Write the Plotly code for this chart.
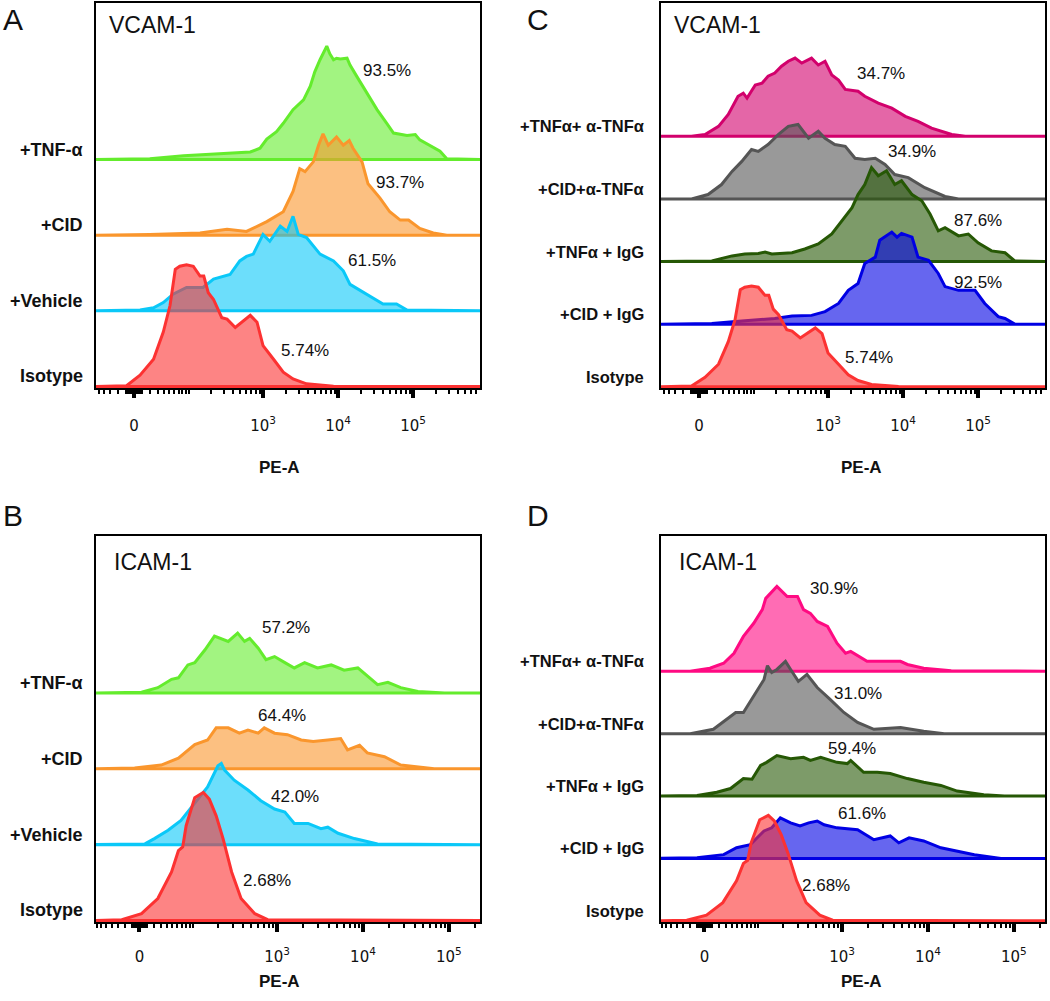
import numpy as np
import plotly.graph_objects as go

# ---------------- data (x: display channel of PE-A, y: normalized count in lane units) ----
# Panel A - VCAM-1
A_TNF_x = [0.75,1.49,1.94,2.6,2.83,2.96,3.05,3.18,3.27,3.4,3.54,3.63,3.69,3.76,3.85,3.89,3.94,3.98,4.03,4.12,4.16,4.25,4.38,4.52,4.65,4.74,4.92,5.03,5.09,5.23,5.36,5.45,5.92]
A_TNF_y = [0,0.01,0.05,0.09,0.1,0.15,0.27,0.37,0.48,0.66,0.79,0.97,1.16,1.32,1.5,1.4,1.32,1.34,1.33,1.34,1.25,1.1,0.88,0.66,0.48,0.35,0.32,0.33,0.26,0.18,0.11,0.01,0]
A_CID_x = [0.75,1.49,2.16,2.52,2.78,2.87,3.05,3.27,3.4,3.49,3.56,3.67,3.74,3.8,3.87,3.98,4.07,4.15,4.2,4.32,4.4,4.56,4.69,4.83,4.94,5.09,5.27,5.45,5.92]
A_CID_y = [0,0.01,0.03,0.08,0.05,0.09,0.18,0.31,0.58,0.88,0.84,0.97,1.19,1.34,1.19,1.3,1.19,1.25,1.15,0.97,0.68,0.49,0.31,0.2,0.2,0.09,0.03,0,0]
A_VEH_x = [0.75,1.36,1.54,1.67,1.8,1.98,2.2,2.34,2.56,2.69,2.78,2.87,3.0,3.09,3.23,3.32,3.4,3.47,3.58,3.76,3.94,4.07,4.16,4.38,4.6,4.78,4.92,5.92]
A_VEH_y = [0,0.01,0.04,0.11,0.22,0.31,0.31,0.42,0.48,0.66,0.72,0.75,1.01,0.92,1.12,1.05,1.25,1.01,0.97,0.75,0.66,0.53,0.35,0.22,0.09,0.09,0.01,0]
ISO_VC_x = [0.75,1.18,1.36,1.54,1.67,1.76,1.83,1.89,1.98,2.07,2.16,2.21,2.27,2.34,2.45,2.52,2.63,2.72,2.83,2.92,3.0,3.14,3.27,3.4,3.58,3.94,5.92]
ISO_VC_y = [0,0.01,0.15,0.36,0.72,1.07,1.55,1.59,1.61,1.59,1.46,1.46,1.24,1.15,0.91,0.89,0.78,0.85,0.94,0.85,0.54,0.36,0.19,0.1,0.035,0.004,0]

# Panel C - VCAM-1
C_TNFA_x = [0.75,1.18,1.36,1.54,1.67,1.8,1.87,1.92,2.03,2.12,2.2,2.29,2.38,2.47,2.56,2.65,2.78,2.87,2.96,3.05,3.14,3.23,3.4,3.49,3.67,3.85,4.03,4.2,4.38,4.65,4.83,5.92]
C_TNFA_y = [0,0,0.03,0.16,0.35,0.64,0.69,0.61,0.82,0.85,0.96,1.01,1.12,1.2,1.25,1.17,1.25,1.14,1.2,0.98,0.9,0.75,0.72,0.64,0.53,0.45,0.32,0.24,0.13,0.03,0,0]
C_CIDA_x = [0.75,1.18,1.4,1.58,1.72,1.85,1.98,2.07,2.2,2.34,2.47,2.6,2.74,2.87,2.96,3.09,3.23,3.36,3.49,3.63,3.76,3.89,4.07,4.29,4.56,4.74,5.92]
C_CIDA_y = [0,0,0.07,0.23,0.44,0.6,0.79,0.76,0.87,1.03,1.16,1.19,0.97,1.08,0.97,0.87,0.84,0.65,0.63,0.65,0.55,0.39,0.34,0.18,0.04,0,0]
C_TNFG_x = [0.75,1.45,1.72,1.89,2.07,2.16,2.25,2.52,2.69,2.87,3.05,3.18,3.32,3.4,3.49,3.58,3.67,3.78,3.89,3.98,4.12,4.25,4.36,4.47,4.56,4.74,4.87,5.0,5.18,5.36,5.49,5.92]
C_TNFG_y = [0,0.01,0.09,0.12,0.13,0.15,0.12,0.14,0.2,0.28,0.44,0.65,0.86,1.07,1.23,1.5,1.37,1.45,1.23,1.29,1.07,0.97,0.76,0.49,0.54,0.41,0.44,0.3,0.17,0.14,0.01,0]
C_CIDG_x = [0.75,1.45,1.85,2.29,2.52,2.78,2.96,3.14,3.27,3.4,3.49,3.63,3.69,3.85,3.92,3.98,4.12,4.2,4.34,4.47,4.56,4.74,4.96,5.09,5.27,5.36,5.49,5.92]
C_CIDG_y = [0,0.01,0.05,0.09,0.13,0.14,0.2,0.33,0.54,0.65,0.97,1.07,1.34,1.47,1.39,1.45,1.39,1.07,1.02,0.81,0.6,0.54,0.54,0.33,0.12,0.09,0,0]

# Panel B - ICAM-1
B_TNF_x = [0.85,1.42,1.61,1.77,1.85,1.96,2.04,2.16,2.27,2.35,2.43,2.54,2.62,2.68,2.78,2.87,2.97,3.09,3.2,3.32,3.47,3.63,3.78,3.94,4.05,4.17,4.29,4.44,4.64,4.95,5.4]
B_TNF_y = [0,0.01,0.07,0.18,0.2,0.37,0.4,0.57,0.75,0.72,0.68,0.79,0.68,0.72,0.59,0.44,0.48,0.4,0.33,0.4,0.33,0.37,0.3,0.33,0.22,0.11,0.14,0.07,0.02,0,0]
B_CID_x = [0.85,1.34,1.65,1.85,2.04,2.19,2.29,2.43,2.56,2.66,2.78,2.85,2.97,3.12,3.28,3.42,3.59,3.74,3.82,3.96,4.05,4.25,4.44,4.83,5.4]
B_CID_y = [0,0.01,0.05,0.14,0.32,0.38,0.54,0.54,0.47,0.51,0.47,0.54,0.47,0.45,0.38,0.36,0.38,0.4,0.25,0.31,0.21,0.16,0.05,0,0]
B_VEH_x = [0.85,1.46,1.57,1.73,1.88,2.04,2.19,2.31,2.35,2.39,2.5,2.66,2.81,2.97,3.09,3.2,3.36,3.51,3.59,3.71,3.9,4.17,5.4]
B_VEH_y = [0,0.01,0.08,0.19,0.32,0.54,0.76,1.04,1.07,0.98,0.85,0.72,0.58,0.47,0.43,0.28,0.28,0.21,0.23,0.15,0.08,0.01,0]
ISO_IC_x = [0.85,1.19,1.42,1.61,1.77,1.85,1.9,1.94,2.04,2.14,2.21,2.29,2.37,2.47,2.58,2.74,2.89,5.4]
ISO_IC_y = [0,0.01,0.09,0.29,0.64,0.92,0.97,1.25,1.62,1.69,1.6,1.38,1.08,0.64,0.29,0.09,0.01,0]

# Panel D - ICAM-1
D_TNFA_x = [0.85,1.23,1.46,1.62,1.74,1.85,1.97,2.07,2.11,2.24,2.36,2.48,2.55,2.63,2.71,2.83,2.94,3.04,3.1,3.29,3.68,3.76,3.95,4.27,5.4]
D_TNFA_y = [0,0,0.05,0.13,0.29,0.56,0.77,0.99,1.17,1.36,1.2,1.2,0.99,0.93,0.8,0.72,0.45,0.29,0.32,0.16,0.16,0.11,0.05,0.01,0]
D_CIDA_x = [0.85,1.23,1.5,1.66,1.76,1.85,1.97,2.09,2.13,2.18,2.24,2.34,2.4,2.49,2.59,2.71,2.86,3.02,3.18,3.37,3.68,3.95,4.19,5.4]
D_CIDA_y = [0,0,0.07,0.23,0.34,0.34,0.6,0.87,1.09,0.98,1.03,1.16,1.03,0.84,0.95,0.74,0.55,0.34,0.18,0.07,0.1,0.04,0,0]
D_TNFG_x = [0.85,1.31,1.54,1.7,1.85,1.95,2.05,2.12,2.24,2.4,2.55,2.63,2.75,2.94,3.06,3.1,3.25,3.41,3.56,3.76,3.95,4.15,4.34,4.65,4.89,5.4]
D_TNFG_y = [0,0.01,0.06,0.12,0.28,0.27,0.49,0.54,0.65,0.6,0.62,0.57,0.62,0.54,0.52,0.57,0.38,0.38,0.36,0.28,0.22,0.17,0.08,0.02,0,0]
D_CIDG_x = [0.85,1.31,1.62,1.77,1.93,2.09,2.18,2.28,2.4,2.51,2.61,2.71,2.79,2.94,3.18,3.37,3.56,3.66,3.78,3.95,4.15,4.34,4.54,4.85,5.4]
D_CIDG_y = [0,0.01,0.06,0.17,0.22,0.44,0.49,0.65,0.57,0.52,0.57,0.6,0.54,0.49,0.46,0.3,0.36,0.25,0.33,0.28,0.17,0.12,0.06,0,0]

# sample labels (top lane first)
LABELS_AB = ["+TNF-\u03b1", "+CID", "+Vehicle", "Isotype"]
LABELS_CD = ["+TNF\u03b1+ \u03b1-TNF\u03b1", "+CID+\u03b1-TNF\u03b1", "+TNF\u03b1 + IgG", "+CID + IgG", "Isotype"]

# gate percentages (text, channel position, lane height)
PCT_A = ["93.5%", "93.7%", "61.5%", "5.74%"]; PCT_A_X = [4.65, 4.83, 4.45, 3.56]; PCT_A_Y = [4.18, 2.70, 1.66, 0.47]
PCT_C = ["34.7%", "34.9%", "87.6%", "92.5%", "5.74%"]; PCT_C_X = [3.71, 4.12, 5.0, 5.0, 3.55]; PCT_C_Y = [5.0, 3.76, 2.65, 1.67, 0.47]
PCT_B = ["57.2%", "64.4%", "42.0%", "2.68%"]; PCT_B_X = [3.1, 3.06, 3.21, 2.88]; PCT_B_Y = [3.87, 2.70, 1.63, 0.53]
PCT_D = ["30.9%", "31.0%", "59.4%", "61.6%", "2.68%"]; PCT_D_X = [2.91, 3.18, 3.11, 3.23, 2.81]; PCT_D_Y = [5.33, 3.65, 2.76, 1.72, 0.57]

# ---------------- styles ----------------
COL = {
    "green": (100, 236, 45), "orange": (250, 150, 45), "cyan": (10, 200, 248), "red": (252, 50, 50),
    "pinkC": (210, 0, 108), "gray": (85, 85, 85), "dgreen": (38, 88, 5), "blue": (0, 0, 228),
    "pinkD": (255, 10, 130),
}
FONT = "Arial, Liberation Sans, sans-serif"

fig = go.Figure()

W, H = 1050, 1001
panels = {
    "A": ("", (96, 480), (3, 388), [0.773, 5.893], [-0.02, 5.07], 1.28,
          [(A_TNF_x, A_TNF_y, "green"), (A_CID_x, A_CID_y, "orange"), (A_VEH_x, A_VEH_y, "cyan"), (ISO_VC_x, ISO_VC_y, "red")],
          LABELS_AB, (PCT_A, PCT_A_X, PCT_A_Y), "VCAM-1", 0.029, 0.943, 0.479, 468, 11, 18, 15),
    "C": ("2", (661, 1045), (3, 388), [0.773, 5.893], [-0.02, 6.13], 1.28,
          [(C_TNFA_x, C_TNFA_y, "pinkC"), (C_CIDA_x, C_CIDA_y, "gray"), (C_TNFG_x, C_TNFG_y, "dgreen"), (C_CIDG_x, C_CIDG_y, "blue"), (ISO_VC_x, ISO_VC_y, "red")],
          LABELS_CD, (PCT_C, PCT_C_X, PCT_C_Y), "VCAM-1", 0.029, 0.943, 0.523, 468, 15, 16.5, 15),
    "B": ("3", (96, 480), (536, 922), [0.89, 5.363], [-0.02, 5.07], 1.396,
          [(B_TNF_x, B_TNF_y, "green"), (B_CID_x, B_CID_y, "orange"), (B_VEH_x, B_VEH_y, "cyan"), (ISO_IC_x, ISO_IC_y, "red")],
          LABELS_AB, (PCT_B, PCT_B_X, PCT_B_Y), "ICAM-1", 0.042, 0.933, 0.479, 993, 11, 18, 12),
    "D": ("4", (661, 1045), (536, 922), [0.89, 5.363], [-0.02, 6.17], 1.396,
          [(D_TNFA_x, D_TNFA_y, "pinkD"), (D_CIDA_x, D_CIDA_y, "gray"), (D_TNFG_x, D_TNFG_y, "dgreen"), (D_CIDG_x, D_CIDG_y, "blue"), (ISO_IC_x, ISO_IC_y, "red")],
          LABELS_CD, (PCT_D, PCT_D_X, PCT_D_Y), "ICAM-1", 0.042, 0.933, 0.523, 993, 15, 16.5, 12),
}

annotations = []

def biex(v, z0):
    c = 10 ** z0
    return z0 + np.arcsinh(np.asarray(v, dtype=float) / (2 * c)) / np.log(10)

for name, (ax, xpx, ypx, xr, yr, z0, curves, labels, pct, title, tx, ty, pex, pey, lgap, lsize, stand) in panels.items():
    xa = "x" + ax
    ya = "y" + ax
    n = len(curves)
    for i, (xs, ys, cname) in enumerate(curves):
        lane = n - 1 - i
        r, g, b = COL[cname]
        px = list(xs) + [xs[-1], xs[0]]
        py = [lane + v for v in ys] + [lane, lane]
        fig.add_trace(go.Scatter(
            x=px, y=py, xaxis=xa, yaxis=ya, mode="lines", fill="toself",
            fillcolor=f"rgba({r},{g},{b},0.6)", line=dict(color=f"rgb({r},{g},{b})", width=3),
            hoverinfo="skip", showlegend=False))
        annotations.append(dict(xref=f"{xa} domain", yref=ya, x=-lgap / 384, y=lane, yshift=10,
                                text=f"<b>{labels[i]}</b>", showarrow=False, xanchor="right", yanchor="middle",
                                font=dict(family=FONT, size=lsize, color="#111")))
    for t, x, y in zip(*pct):
        annotations.append(dict(xref=xa, yref=ya, x=x, y=y, text=t, showarrow=False,
                                font=dict(family=FONT, size=17, color="#111")))
    annotations.append(dict(xref=f"{xa} domain", yref=f"{ya} domain", x=tx, y=ty, text=title, showarrow=False,
                            xanchor="left", yanchor="middle", font=dict(family=FONT, size=23, color="#111")))
    annotations.append(dict(xref=f"{xa} domain", yref="paper", x=pex, y=1 - pey / H, text="<b>PE-A</b>",
                            showarrow=False, font=dict(family=FONT, size=17, color="#111")))

    major_v = [0, 100, 1e3, 1e4, 1e5]
    major_t = ["0", "", "10<sup>3</sup>", "10<sup>4</sup>", "10<sup>5</sup>"]
    minor_v = sorted({s * k * 10 ** p for p in range(0, 6) for k in range(1, 10) for s in (1, -1)})
    minor_u = [float(u) for u in biex(minor_v, z0) if xr[0] < u < xr[1]]
    axis_common = dict(showgrid=False, zeroline=False, showline=True, linecolor="black", linewidth=1.5, mirror=True)
    fig.update_layout(**{
        "xaxis" + ax: dict(domain=[xpx[0] / W, xpx[1] / W], range=xr, anchor=ya,
                           tickmode="array", tickvals=[float(u) for u in biex(major_v, z0)], ticktext=major_t,
                           ticks="outside", ticklen=8, tickwidth=3.5, tickcolor="black",
                           ticklabelstandoff=stand, layer="below traces",
                           tickfont=dict(family="DejaVu Sans, Verdana, sans-serif", size=15, color="#111"),
                           minor=dict(tickmode="array", tickvals=minor_u, ticks="outside", ticklen=4,
                                      tickwidth=1.5, tickcolor="black"),
                           **axis_common),
        "yaxis" + ax: dict(domain=[1 - ypx[1] / H, 1 - ypx[0] / H], range=yr, anchor=xa,
                           showticklabels=False, ticks="", layer="below traces", **axis_common),
    })

for letter, x, y in [("A", 13, 19), ("C", 538, 19), ("B", 13, 515), ("D", 538, 515)]:
    annotations.append(dict(xref="paper", yref="paper", x=x / W, y=1 - y / H, text=letter, showarrow=False,
                            xanchor="center", yanchor="middle", font=dict(family=FONT, size=30, color="#111")))

fig.update_layout(width=W, height=H, margin=dict(l=0, r=0, t=0, b=0), paper_bgcolor="white",
                  plot_bgcolor="white", annotations=annotations, showlegend=False)
fig.write_html("out.html", config={"displayModeBar": False})

# remove the default page margin so the figure sits at the window origin
with open("out.html", encoding="utf-8") as f:
    html = f.read()
html = html.replace("<head>", "<head><style>html,body{margin:0;padding:0;overflow:hidden;}</style>", 1)
with open("out.html", "w", encoding="utf-8") as f:
    f.write(html)
